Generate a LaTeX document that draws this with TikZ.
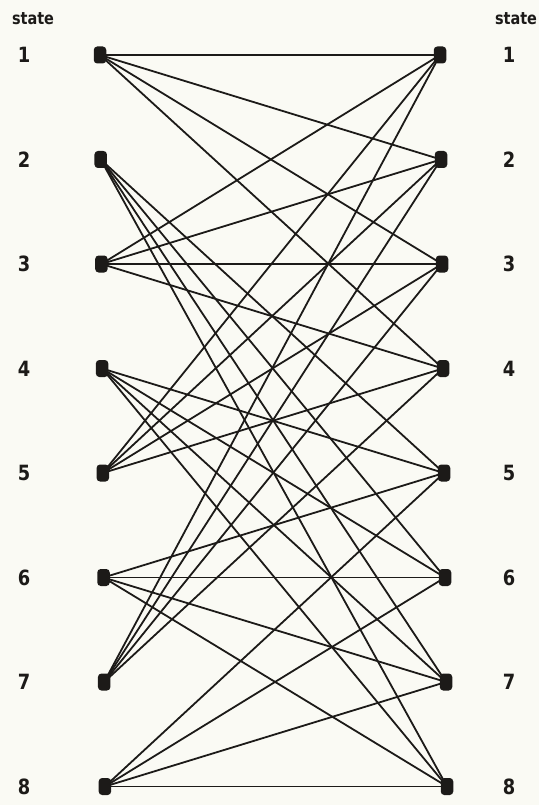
\documentclass[tikz,border=0pt]{standalone}
\usepackage{fontspec}
\setmainfont{DejaVu Sans}[FakeStretch=0.85]
\usepackage{xcolor}
\definecolor{paper}{RGB}{250,250,244}
\definecolor{ink}{RGB}{28,26,24}

\tikzset{
  statebox/.style={fill=ink, rounded corners=3.5pt, minimum width=12.5pt,
                   minimum height=17pt, inner sep=0pt},
  branch/.style={ink, line width=1.8pt, line cap=round},
  numlabel/.style={ink, inner sep=0pt, font=\fontsize{21}{24}\selectfont\bfseries},
  headlabel/.style={ink, inner sep=0pt, font=\fontsize{17}{20}\selectfont\bfseries}
}

\begin{document}
\begin{tikzpicture}[x=1pt,y=-1pt]
  \fill[paper] (0,0) rectangle (539,805);
  \useasboundingbox (0,0) rectangle (539,805);
  \def\dy{104.5}   % spacing of the states

  % headings
  \node[headlabel] (lhead) at (33,19) {state};
  \node[headlabel] (rhead) at (516,19) {state};

  % states at time k (left) and k+1 (right)
  \foreach \i in {1,...,8}{
    \pgfmathsetmacro{\yy}{55+(\i-1)*\dy}
    \node[statebox] (L\i) at ({100+(\i-1)*0.7},\yy) {};
    \node[statebox] (R\i) at ({440+(\i-1)*1.0},\yy) {};
    \node[numlabel] (lnum\i) at (24,\yy) {\i};
    \node[numlabel] (rnum\i) at (509,\yy) {\i};
  }

  % odd states go to the upper half, even states to the lower half
  \foreach \i in {1,3,5,7}{
    \foreach \j in {1,...,4}{
      \draw[branch] (L\i.center) -- (R\j.center);
    }
  }
  \foreach \i in {2,4,6,8}{
    \foreach \j in {5,...,8}{
      \draw[branch] (L\i.center) -- (R\j.center);
    }
  }
\end{tikzpicture}
\end{document}
